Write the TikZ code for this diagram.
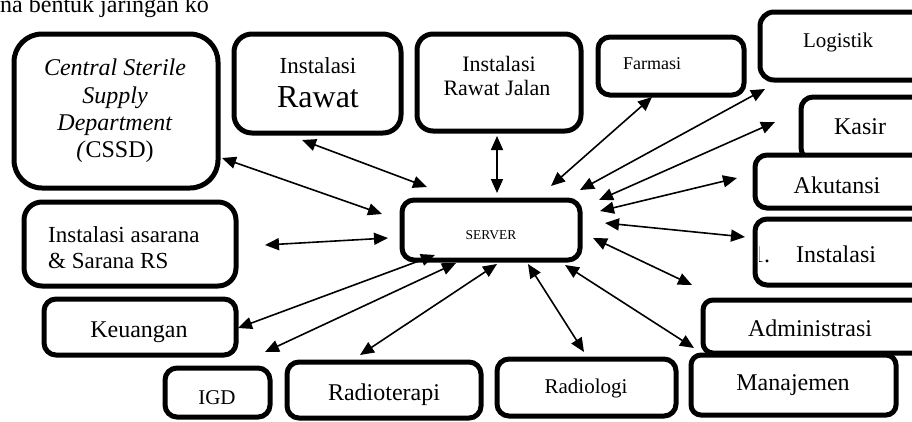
\documentclass[tikz,border=0pt]{standalone}
\usepackage{fontspec}
\setmainfont{Liberation Serif}
\usetikzlibrary{arrows.meta}
\newcommand{\fsz}[1]{\fontsize{#1}{#1}\selectfont}
\tikzset{
  box/.style={draw=black, line width=5pt, fill=white, inner sep=0pt},
  lbl/.style={inner sep=0pt, anchor=base, text=black},
  lblw/.style={inner sep=0pt, anchor=base west, text=black},
  link/.style={line width=1.6pt, {Triangle[length=14pt,width=12pt]}-{Triangle[length=14pt,width=12pt]}},
}
\begin{document}
\begin{tikzpicture}[x=1pt,y=-1pt]
\clip (0,0) rectangle (912,421);
\fill[white] (0,0) rectangle (912,421);
% top text
\node[lblw] (toptext) at (0,12) {\fsz{24}na bentuk jaringan ko};
% boxes
\node[box, minimum width=204pt, minimum height=154pt, rounded corners=28pt] (cssd) at (116,111) {};
\node[box, minimum width=167pt, minimum height=99pt, rounded corners=18pt] (rawat) at (317.5,83.5) {};
\node[box, minimum width=164pt, minimum height=97pt, rounded corners=16pt] (rj) at (499,82.5) {};
\node[box, minimum width=146pt, minimum height=58pt, rounded corners=12pt] (farmasi) at (671,66) {};
\node[box, minimum width=170pt, minimum height=68pt, rounded corners=14pt] (logistik) at (845,46) {};
\node[box, minimum width=129pt, minimum height=63pt, rounded corners=12pt] (kasir) at (865.5,128.5) {};
\node[box, minimum width=175pt, minimum height=53pt, rounded corners=12pt] (akutansi) at (842.5,181.5) {};
\node[box, minimum width=175pt, minimum height=66pt, rounded corners=12pt] (inst) at (842.5,252) {};
\node[box, minimum width=227pt, minimum height=53pt, rounded corners=10pt] (admin) at (816.5,326.5) {};
\node[box, minimum width=205pt, minimum height=60pt, rounded corners=10pt] (manaj) at (793.5,385) {};
\node[box, minimum width=179pt, minimum height=57pt, rounded corners=12pt] (radiologi) at (586.5,387.5) {};
\node[box, minimum width=194pt, minimum height=56pt, rounded corners=12pt] (radioterapi) at (384,390) {};
\node[box, minimum width=105pt, minimum height=49pt, rounded corners=12pt] (igd) at (217.5,392.5) {};
\node[box, minimum width=192pt, minimum height=56pt, rounded corners=12pt] (keuangan) at (140,327) {};
\node[box, minimum width=212pt, minimum height=84pt, rounded corners=18pt] (sarana) at (130,244) {};
\node[box, minimum width=178pt, minimum height=60pt, rounded corners=12pt] (server) at (491,230) {};
% texts
\node[lbl] (cssd1) at (115,75) {\fsz{24}\textit{Central Sterile}};
\node[lbl] (cssd2) at (115,103) {\fsz{24}\textit{Supply}};
\node[lbl] (cssd3) at (115,130) {\fsz{24}\textit{Department}};
\node[lbl] (cssd4) at (115,157) {\fsz{24}\textit{(}CSSD)};
\node[lbl] (rawat1) at (318,73) {\fsz{23}Instalasi};
\node[lbl] (rawat2) at (318,107) {\fsz{32}Rawat};
\node[lbl] (rj1) at (499,71) {\fsz{22}Instalasi};
\node[lbl] (rj2) at (497,95) {\fsz{22}Rawat Jalan};
\node[lblw] (farmasit) at (623,69) {\fsz{18}Farmasi};
\node[lbl] (logistikt) at (838,47) {\fsz{21}Logistik};
\node[lbl] (kasirt) at (860,134) {\fsz{24}Kasir};
\node[lbl] (akutansit) at (837,193) {\fsz{24}Akutansi};
\node[lbl] (instt) at (836,262) {\fsz{24}Instalasi};
\begin{scope}
\clip (759,222) rectangle (790,282);
\node[lblw] (instnum) at (752,262) {\fsz{24}1.};
\end{scope}
\node[lbl] (admint) at (810,336) {\fsz{24}Administrasi};
\node[lbl] (manajt) at (793,390) {\fsz{24}Manajemen};
\node[lbl] (radiologit) at (586,393) {\fsz{21}Radiologi};
\node[lbl] (radioterapit) at (384,400) {\fsz{24}Radioterapi};
\node[lbl] (igdt) at (217,404) {\fsz{21}IGD};
\node[lbl] (keuangant) at (139,337) {\fsz{24}Keuangan};
\node[lblw] (sarana1) at (48,242) {\fsz{23}Instalasi asarana};
\node[lblw] (sarana2) at (48,268) {\fsz{23}\& Sarana RS};
\node[lbl] (servert) at (491,239) {\fsz{13.5}SERVER};
% connector end points
\coordinate (c1a) at (222,158); \coordinate (c1b) at (382,214);
\coordinate (c2a) at (302,140); \coordinate (c2b) at (427,187);
\coordinate (c3a) at (497,136); \coordinate (c3b) at (497,193);
\coordinate (c4a) at (652,97);  \coordinate (c4b) at (551,186);
\coordinate (c5a) at (765,89);  \coordinate (c5b) at (580,190);
\coordinate (c6a) at (775,122); \coordinate (c6b) at (599,200);
\coordinate (c7a) at (737,178); \coordinate (c7b) at (600,211);
\coordinate (c8a) at (745,237); \coordinate (c8b) at (605,223);
\coordinate (c9a) at (692,285); \coordinate (c9b) at (593,238);
\coordinate (c10a) at (694,348); \coordinate (c10b) at (565,265);
\coordinate (c11a) at (584,352); \coordinate (c11b) at (528,264);
\coordinate (c12a) at (360,355); \coordinate (c12b) at (497,264);
\coordinate (c13a) at (265,352); \coordinate (c13b) at (456,263);
\coordinate (c14a) at (238,328); \coordinate (c14b) at (435,255);
\coordinate (c15a) at (265,245); \coordinate (c15b) at (388,238);
% connectors
\foreach \i in {1,...,15} { \draw[link] (c\i a) -- (c\i b); }
\end{tikzpicture}
\end{document}
